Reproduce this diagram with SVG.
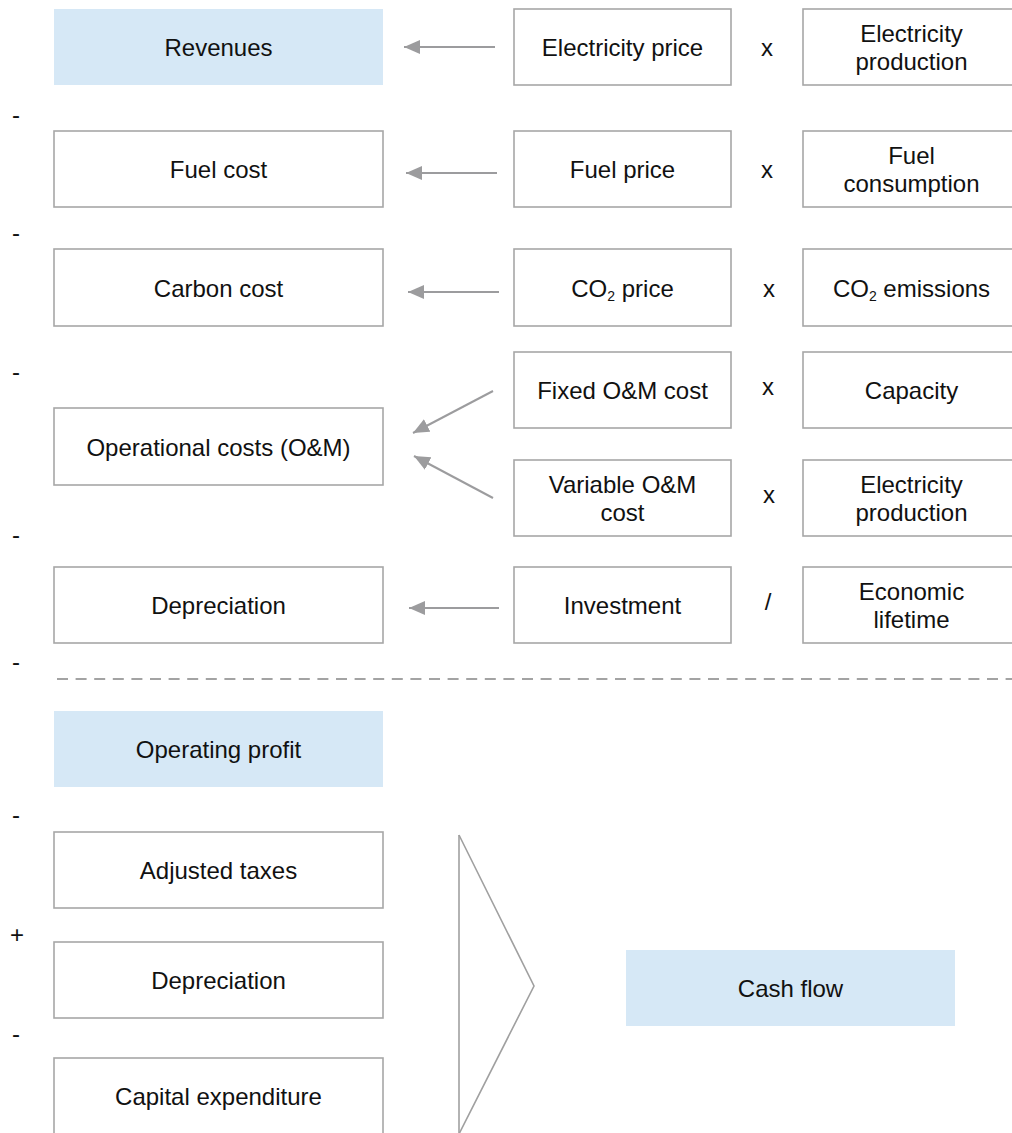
<svg xmlns="http://www.w3.org/2000/svg" width="1012" height="1133" viewBox="0 0 1012 1133">
<defs>
<style>
.box{fill:#ffffff;stroke:#a7a7a7;stroke-width:1.6}
.hi{fill:#d6e8f6;stroke:none}
text{font-family:"Liberation Sans",Arial,Helvetica,sans-serif;font-size:24px;fill:#111111}
.c{text-anchor:middle}
.sub{font-size:14px}
.conn{stroke:#9c9c9e;stroke-width:2;fill:none}
.dash{stroke:#a3a3a3;stroke-width:2;stroke-dasharray:11 7.6;fill:none}
.chev{stroke:#a0a0a0;stroke-width:1.6;fill:none}
</style>
<marker id="ah" markerUnits="userSpaceOnUse" markerWidth="17" markerHeight="15" refX="16" refY="7" orient="auto">
<path d="M0,0 L16,7 L0,14 z" fill="#9c9c9e"/>
</marker>
</defs>
<rect width="1012" height="1133" fill="#ffffff"/>

<g id="signs">
<text x="12" y="123">-</text>
<text x="12" y="241">-</text>
<text x="12" y="380">-</text>
<text x="12" y="543">-</text>
<text x="12" y="670">-</text>
<text x="12" y="823">-</text>
<text x="10" y="943">+</text>
<text x="12" y="1042">-</text>
</g>

<g id="operators">
<text class="c" x="767" y="56">x</text>
<text class="c" x="767" y="178">x</text>
<text class="c" x="769" y="297">x</text>
<text class="c" x="768" y="395">x</text>
<text class="c" x="769" y="503">x</text>
<text class="c" x="768" y="610">/</text>
</g>

<g id="revenues"><rect class="hi" x="54" y="9" width="329" height="76"/><text class="c" x="218.5" y="55.5">Revenues</text></g>
<g id="fuel-cost"><rect class="box" x="54" y="131" width="329" height="76"/><text class="c" x="218.5" y="177.5">Fuel cost</text></g>
<g id="carbon-cost"><rect class="box" x="54" y="249" width="329" height="77"/><text class="c" x="218.5" y="296.5">Carbon cost</text></g>
<g id="om-costs"><rect class="box" x="54" y="408" width="329" height="77"/><text class="c" x="218.5" y="455.5">Operational costs (O&amp;M)</text></g>
<g id="depreciation-1"><rect class="box" x="54" y="567" width="329" height="76"/><text class="c" x="218.5" y="613.5">Depreciation</text></g>

<g id="electricity-price"><rect class="box" x="514" y="9" width="217" height="76"/><text class="c" x="622.5" y="55.5">Electricity price</text></g>
<g id="fuel-price"><rect class="box" x="514" y="131" width="217" height="76"/><text class="c" x="622.5" y="177.5">Fuel price</text></g>
<g id="co2-price"><rect class="box" x="514" y="249" width="217" height="77"/><text class="c" x="622.5" y="296.5">CO<tspan class="sub" dy="4">2</tspan><tspan dy="-4"> price</tspan></text></g>
<g id="fixed-om"><rect class="box" x="514" y="352" width="217" height="76"/><text class="c" x="622.5" y="398.5">Fixed O&amp;M cost</text></g>
<g id="variable-om"><rect class="box" x="514" y="460" width="217" height="76"/><text class="c" x="622.5" y="493">Variable O&amp;M</text><text class="c" x="622.5" y="521">cost</text></g>
<g id="investment"><rect class="box" x="514" y="567" width="217" height="76"/><text class="c" x="622.5" y="613.5">Investment</text></g>

<g id="electricity-production-1"><rect class="box" x="803" y="9" width="217" height="76"/><text class="c" x="911.5" y="42">Electricity</text><text class="c" x="911.5" y="70">production</text></g>
<g id="fuel-consumption"><rect class="box" x="803" y="131" width="217" height="76"/><text class="c" x="911.5" y="164">Fuel</text><text class="c" x="911.5" y="192">consumption</text></g>
<g id="co2-emissions"><rect class="box" x="803" y="249" width="217" height="77"/><text class="c" x="911.5" y="296.5">CO<tspan class="sub" dy="4">2</tspan><tspan dy="-4"> emissions</tspan></text></g>
<g id="capacity"><rect class="box" x="803" y="352" width="217" height="76"/><text class="c" x="911.5" y="398.5">Capacity</text></g>
<g id="electricity-production-2"><rect class="box" x="803" y="460" width="217" height="76"/><text class="c" x="911.5" y="493">Electricity</text><text class="c" x="911.5" y="521">production</text></g>
<g id="economic-lifetime"><rect class="box" x="803" y="567" width="217" height="76"/><text class="c" x="911.5" y="600">Economic</text><text class="c" x="911.5" y="628">lifetime</text></g>

<g id="operating-profit"><rect class="hi" x="54" y="711" width="329" height="76"/><text class="c" x="218.5" y="757.5">Operating profit</text></g>
<g id="adjusted-taxes"><rect class="box" x="54" y="832" width="329" height="76"/><text class="c" x="218.5" y="878.5">Adjusted taxes</text></g>
<g id="depreciation-2"><rect class="box" x="54" y="942" width="329" height="76"/><text class="c" x="218.5" y="988.5">Depreciation</text></g>
<g id="capital-expenditure"><rect class="box" x="54" y="1058" width="329" height="90"/><text class="c" x="218.5" y="1104.5">Capital expenditure</text></g>
<g id="cash-flow"><rect class="hi" x="626" y="950" width="329" height="76"/><text class="c" x="790.5" y="996.5">Cash flow</text></g>

<g id="connectors">
<line class="conn" x1="495" y1="47" x2="404" y2="47" marker-end="url(#ah)"/>
<line class="conn" x1="497" y1="173" x2="406" y2="173" marker-end="url(#ah)"/>
<line class="conn" x1="499" y1="292" x2="408" y2="292" marker-end="url(#ah)"/>
<line class="conn" x1="493" y1="391" x2="413" y2="433" marker-end="url(#ah)"/>
<line class="conn" x1="493" y1="498" x2="414" y2="456" marker-end="url(#ah)"/>
<line class="conn" x1="499" y1="608" x2="409" y2="608" marker-end="url(#ah)"/>
<line class="dash" x1="57" y1="679" x2="1012" y2="679"/>
<polyline class="chev" points="459,835 534,986 459,1134"/>
<line class="chev" x1="459" y1="835" x2="459" y2="1134"/>
</g>
</svg>
